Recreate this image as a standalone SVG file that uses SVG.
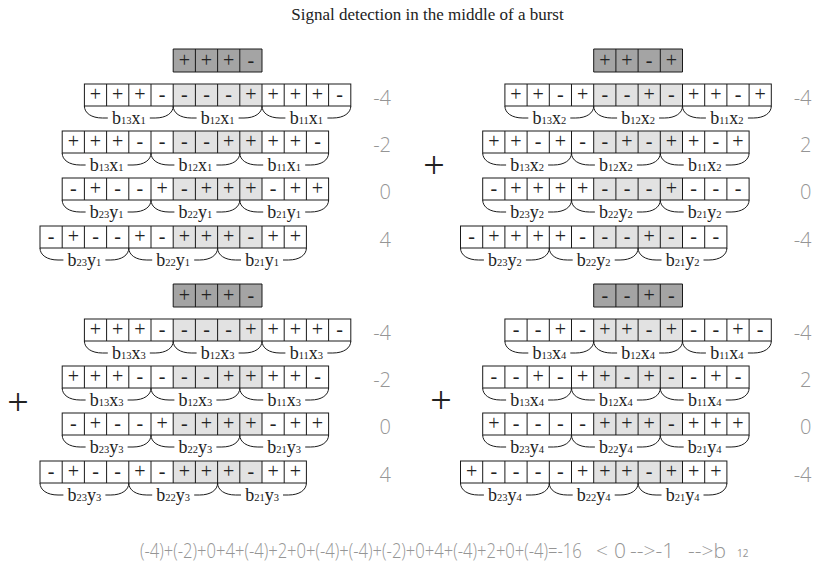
<svg xmlns="http://www.w3.org/2000/svg" xmlns:xlink="http://www.w3.org/1999/xlink" width="816" height="568" viewBox="0 0 816 568">
<style>
.ln{stroke:#1a1a1a;stroke-width:1;fill:none}
.sh{fill:#e2e2e2}
.key{fill:#a4a4a4}
.s{font-family:"Liberation Serif",serif;font-size:20px;fill:#222;text-anchor:middle}
.lb{font-family:"Liberation Serif",serif;font-size:18px;fill:#222;text-anchor:middle}
.sub{font-size:10.5px}
.v{font-family:"Open Sans","Liberation Sans",sans-serif;font-size:20px;font-weight:300;fill:#959595;text-anchor:end}
.title{font-family:"Liberation Serif",serif;font-size:17px;fill:#222;text-anchor:middle}
.eq{font-family:"Open Sans","Liberation Sans",sans-serif;font-size:21px;font-weight:300;fill:#959595}
.eqs{font-family:"Open Sans","Liberation Sans",sans-serif;font-size:10px;fill:#959595}
.big{font-family:"Liberation Serif",serif;font-size:38px;fill:#222;text-anchor:middle}
</style>
<defs>
<g id="row12" class="ln">
<rect x="0" y="0" width="266.4" height="22"/>
<path d="M22.2 0V22M44.4 0V22M66.6 0V22M88.8 0V22M111 0V22M133.2 0V22M155.4 0V22M177.6 0V22M199.8 0V22M222 0V22M244.2 0V22"/>
</g>
<g id="key4">
<rect class="key" x="0" y="0" width="88.8" height="23"/>
<path class="ln" d="M0 0H88.8V23H0ZM22.2 0V23M44.4 0V23M66.6 0V23"/>
</g>
<path id="braces" class="ln" d="M0 0C0 7 7 12 18 12H23.4M65.4 12H70.8C81.8 12 88.8 7 88.8 0M88.8 0C88.8 7 95.8 12 106.8 12H112.2M154.2 12H159.6C170.6 12 177.6 7 177.6 0M177.6 0C177.6 7 184.6 12 195.6 12H201M243 12H248.4C259.4 12 266.4 7 266.4 0"/>
</defs>
<rect width="816" height="568" fill="#fff"/>
<text class="title" x="427.5" y="20">Signal detection in the middle of a burst</text>

<g id="q1">
<g id="q1-key" transform="translate(173.2,49)"><use xlink:href="#key4"/><text class="s" x="11.1 33.3 55.5 77.7" y="17.5">+++-</text></g>
<g id="q1-r1" transform="translate(84.4,84)"><rect class="sh" x="88.8" width="88.8" height="22"/><use xlink:href="#row12"/><text class="s" x="11.1 33.3 55.5 77.7 99.9 122.1 144.3 166.5 188.7 210.9 233.1 255.3" y="17">+++----++++-</text><text class="v" x="306.6" y="21">-4</text></g>
<g id="q1-r2" transform="translate(62.2,131)"><rect class="sh" x="111" width="88.8" height="22"/><use xlink:href="#row12"/><text class="s" x="11.1 33.3 55.5 77.7 99.9 122.1 144.3 166.5 188.7 210.9 233.1 255.3" y="17">+++----++++-</text><text class="v" x="328.8" y="21">-2</text></g>
<g id="q1-r3" transform="translate(62.2,178)"><rect class="sh" x="111" width="88.8" height="22"/><use xlink:href="#row12"/><text class="s" x="11.1 33.3 55.5 77.7 99.9 122.1 144.3 166.5 188.7 210.9 233.1 255.3" y="17">-+--+-+++-++</text><text class="v" x="328.8" y="21">0</text></g>
<g id="q1-r4" transform="translate(40,226)"><rect class="sh" x="133.2" width="88.8" height="22"/><use xlink:href="#row12"/><text class="s" x="11.1 33.3 55.5 77.7 99.9 122.1 144.3 166.5 188.7 210.9 233.1 255.3" y="17">-+--+-+++-++</text><text class="v" x="351" y="21">4</text></g>
<g id="q1-braces">
<use xlink:href="#braces" transform="translate(84.4,106)"/>
<use xlink:href="#braces" transform="translate(62.2,153)"/>
<use xlink:href="#braces" transform="translate(62.2,200)"/>
<use xlink:href="#braces" transform="translate(40,248)"/>
<text class="lb" x="128.8" y="124">b<tspan class="sub">13</tspan>x<tspan class="sub">1</tspan></text>
<text class="lb" x="217.6" y="124">b<tspan class="sub">12</tspan>x<tspan class="sub">1</tspan></text>
<text class="lb" x="306.4" y="124">b<tspan class="sub">11</tspan>x<tspan class="sub">1</tspan></text>
<text class="lb" x="106.6" y="171">b<tspan class="sub">13</tspan>x<tspan class="sub">1</tspan></text>
<text class="lb" x="195.4" y="171">b<tspan class="sub">12</tspan>x<tspan class="sub">1</tspan></text>
<text class="lb" x="284.2" y="171">b<tspan class="sub">11</tspan>x<tspan class="sub">1</tspan></text>
<text class="lb" x="106.6" y="218">b<tspan class="sub">23</tspan>y<tspan class="sub">1</tspan></text>
<text class="lb" x="195.4" y="218">b<tspan class="sub">22</tspan>y<tspan class="sub">1</tspan></text>
<text class="lb" x="284.2" y="218">b<tspan class="sub">21</tspan>y<tspan class="sub">1</tspan></text>
<text class="lb" x="84.4" y="266">b<tspan class="sub">23</tspan>y<tspan class="sub">1</tspan></text>
<text class="lb" x="173.2" y="266">b<tspan class="sub">22</tspan>y<tspan class="sub">1</tspan></text>
<text class="lb" x="262" y="266">b<tspan class="sub">21</tspan>y<tspan class="sub">1</tspan></text>
</g>
</g>

<g id="q2" transform="translate(420.5,0)">
<g id="q2-key" transform="translate(173.2,49)"><use xlink:href="#key4"/><text class="s" x="11.1 33.3 55.5 77.7" y="17.5">++-+</text></g>
<g id="q2-r1" transform="translate(84.4,84)"><rect class="sh" x="88.8" width="88.8" height="22"/><use xlink:href="#row12"/><text class="s" x="11.1 33.3 55.5 77.7 99.9 122.1 144.3 166.5 188.7 210.9 233.1 255.3" y="17">++-+--+-++-+</text><text class="v" x="306.6" y="21">-4</text></g>
<g id="q2-r2" transform="translate(62.2,131)"><rect class="sh" x="111" width="88.8" height="22"/><use xlink:href="#row12"/><text class="s" x="11.1 33.3 55.5 77.7 99.9 122.1 144.3 166.5 188.7 210.9 233.1 255.3" y="17">++-+--+-++-+</text><text class="v" x="328.8" y="21">2</text></g>
<g id="q2-r3" transform="translate(62.2,178)"><rect class="sh" x="111" width="88.8" height="22"/><use xlink:href="#row12"/><text class="s" x="11.1 33.3 55.5 77.7 99.9 122.1 144.3 166.5 188.7 210.9 233.1 255.3" y="17">-++++---+---</text><text class="v" x="328.8" y="21">0</text></g>
<g id="q2-r4" transform="translate(40,226)"><rect class="sh" x="133.2" width="88.8" height="22"/><use xlink:href="#row12"/><text class="s" x="11.1 33.3 55.5 77.7 99.9 122.1 144.3 166.5 188.7 210.9 233.1 255.3" y="17">-++++---+---</text><text class="v" x="351" y="21">-4</text></g>
<g id="q2-braces">
<use xlink:href="#braces" transform="translate(84.4,106)"/>
<use xlink:href="#braces" transform="translate(62.2,153)"/>
<use xlink:href="#braces" transform="translate(62.2,200)"/>
<use xlink:href="#braces" transform="translate(40,248)"/>
<text class="lb" x="128.8" y="124">b<tspan class="sub">13</tspan>x<tspan class="sub">2</tspan></text>
<text class="lb" x="217.6" y="124">b<tspan class="sub">12</tspan>x<tspan class="sub">2</tspan></text>
<text class="lb" x="306.4" y="124">b<tspan class="sub">11</tspan>x<tspan class="sub">2</tspan></text>
<text class="lb" x="106.6" y="171">b<tspan class="sub">13</tspan>x<tspan class="sub">2</tspan></text>
<text class="lb" x="195.4" y="171">b<tspan class="sub">12</tspan>x<tspan class="sub">2</tspan></text>
<text class="lb" x="284.2" y="171">b<tspan class="sub">11</tspan>x<tspan class="sub">2</tspan></text>
<text class="lb" x="106.6" y="218">b<tspan class="sub">23</tspan>y<tspan class="sub">2</tspan></text>
<text class="lb" x="195.4" y="218">b<tspan class="sub">22</tspan>y<tspan class="sub">2</tspan></text>
<text class="lb" x="284.2" y="218">b<tspan class="sub">21</tspan>y<tspan class="sub">2</tspan></text>
<text class="lb" x="84.4" y="266">b<tspan class="sub">23</tspan>y<tspan class="sub">2</tspan></text>
<text class="lb" x="173.2" y="266">b<tspan class="sub">22</tspan>y<tspan class="sub">2</tspan></text>
<text class="lb" x="262" y="266">b<tspan class="sub">21</tspan>y<tspan class="sub">2</tspan></text>
</g>
</g>

<g id="q3" transform="translate(0,235)">
<g id="q3-key" transform="translate(173.2,49)"><use xlink:href="#key4"/><text class="s" x="11.1 33.3 55.5 77.7" y="17.5">+++-</text></g>
<g id="q3-r1" transform="translate(84.4,84)"><rect class="sh" x="88.8" width="88.8" height="22"/><use xlink:href="#row12"/><text class="s" x="11.1 33.3 55.5 77.7 99.9 122.1 144.3 166.5 188.7 210.9 233.1 255.3" y="17">+++----++++-</text><text class="v" x="306.6" y="21">-4</text></g>
<g id="q3-r2" transform="translate(62.2,131)"><rect class="sh" x="111" width="88.8" height="22"/><use xlink:href="#row12"/><text class="s" x="11.1 33.3 55.5 77.7 99.9 122.1 144.3 166.5 188.7 210.9 233.1 255.3" y="17">+++----++++-</text><text class="v" x="328.8" y="21">-2</text></g>
<g id="q3-r3" transform="translate(62.2,178)"><rect class="sh" x="111" width="88.8" height="22"/><use xlink:href="#row12"/><text class="s" x="11.1 33.3 55.5 77.7 99.9 122.1 144.3 166.5 188.7 210.9 233.1 255.3" y="17">-+--+-+++-++</text><text class="v" x="328.8" y="21">0</text></g>
<g id="q3-r4" transform="translate(40,226)"><rect class="sh" x="133.2" width="88.8" height="22"/><use xlink:href="#row12"/><text class="s" x="11.1 33.3 55.5 77.7 99.9 122.1 144.3 166.5 188.7 210.9 233.1 255.3" y="17">-+--+-+++-++</text><text class="v" x="351" y="21">4</text></g>
<g id="q3-braces">
<use xlink:href="#braces" transform="translate(84.4,106)"/>
<use xlink:href="#braces" transform="translate(62.2,153)"/>
<use xlink:href="#braces" transform="translate(62.2,200)"/>
<use xlink:href="#braces" transform="translate(40,248)"/>
<text class="lb" x="128.8" y="124">b<tspan class="sub">13</tspan>x<tspan class="sub">3</tspan></text>
<text class="lb" x="217.6" y="124">b<tspan class="sub">12</tspan>x<tspan class="sub">3</tspan></text>
<text class="lb" x="306.4" y="124">b<tspan class="sub">11</tspan>x<tspan class="sub">3</tspan></text>
<text class="lb" x="106.6" y="171">b<tspan class="sub">13</tspan>x<tspan class="sub">3</tspan></text>
<text class="lb" x="195.4" y="171">b<tspan class="sub">12</tspan>x<tspan class="sub">3</tspan></text>
<text class="lb" x="284.2" y="171">b<tspan class="sub">11</tspan>x<tspan class="sub">3</tspan></text>
<text class="lb" x="106.6" y="218">b<tspan class="sub">23</tspan>y<tspan class="sub">3</tspan></text>
<text class="lb" x="195.4" y="218">b<tspan class="sub">22</tspan>y<tspan class="sub">3</tspan></text>
<text class="lb" x="284.2" y="218">b<tspan class="sub">21</tspan>y<tspan class="sub">3</tspan></text>
<text class="lb" x="84.4" y="266">b<tspan class="sub">23</tspan>y<tspan class="sub">3</tspan></text>
<text class="lb" x="173.2" y="266">b<tspan class="sub">22</tspan>y<tspan class="sub">3</tspan></text>
<text class="lb" x="262" y="266">b<tspan class="sub">21</tspan>y<tspan class="sub">3</tspan></text>
</g>
</g>

<g id="q4" transform="translate(420.5,235)">
<g id="q4-key" transform="translate(173.2,49)"><use xlink:href="#key4"/><text class="s" x="11.1 33.3 55.5 77.7" y="17.5">--+-</text></g>
<g id="q4-r1" transform="translate(84.4,84)"><rect class="sh" x="88.8" width="88.8" height="22"/><use xlink:href="#row12"/><text class="s" x="11.1 33.3 55.5 77.7 99.9 122.1 144.3 166.5 188.7 210.9 233.1 255.3" y="17">--+-++-+--+-</text><text class="v" x="306.6" y="21">-4</text></g>
<g id="q4-r2" transform="translate(62.2,131)"><rect class="sh" x="111" width="88.8" height="22"/><use xlink:href="#row12"/><text class="s" x="11.1 33.3 55.5 77.7 99.9 122.1 144.3 166.5 188.7 210.9 233.1 255.3" y="17">--+-++-+--+-</text><text class="v" x="328.8" y="21">2</text></g>
<g id="q4-r3" transform="translate(62.2,178)"><rect class="sh" x="111" width="88.8" height="22"/><use xlink:href="#row12"/><text class="s" x="11.1 33.3 55.5 77.7 99.9 122.1 144.3 166.5 188.7 210.9 233.1 255.3" y="17">+----+++-+++</text><text class="v" x="328.8" y="21">0</text></g>
<g id="q4-r4" transform="translate(40,226)"><rect class="sh" x="133.2" width="88.8" height="22"/><use xlink:href="#row12"/><text class="s" x="11.1 33.3 55.5 77.7 99.9 122.1 144.3 166.5 188.7 210.9 233.1 255.3" y="17">+----+++-+++</text><text class="v" x="351" y="21">-4</text></g>
<g id="q4-braces">
<use xlink:href="#braces" transform="translate(84.4,106)"/>
<use xlink:href="#braces" transform="translate(62.2,153)"/>
<use xlink:href="#braces" transform="translate(62.2,200)"/>
<use xlink:href="#braces" transform="translate(40,248)"/>
<text class="lb" x="128.8" y="124">b<tspan class="sub">13</tspan>x<tspan class="sub">4</tspan></text>
<text class="lb" x="217.6" y="124">b<tspan class="sub">12</tspan>x<tspan class="sub">4</tspan></text>
<text class="lb" x="306.4" y="124">b<tspan class="sub">11</tspan>x<tspan class="sub">4</tspan></text>
<text class="lb" x="106.6" y="171">b<tspan class="sub">13</tspan>x<tspan class="sub">4</tspan></text>
<text class="lb" x="195.4" y="171">b<tspan class="sub">12</tspan>x<tspan class="sub">4</tspan></text>
<text class="lb" x="284.2" y="171">b<tspan class="sub">11</tspan>x<tspan class="sub">4</tspan></text>
<text class="lb" x="106.6" y="218">b<tspan class="sub">23</tspan>y<tspan class="sub">4</tspan></text>
<text class="lb" x="195.4" y="218">b<tspan class="sub">22</tspan>y<tspan class="sub">4</tspan></text>
<text class="lb" x="284.2" y="218">b<tspan class="sub">21</tspan>y<tspan class="sub">4</tspan></text>
<text class="lb" x="84.4" y="266">b<tspan class="sub">23</tspan>y<tspan class="sub">4</tspan></text>
<text class="lb" x="173.2" y="266">b<tspan class="sub">22</tspan>y<tspan class="sub">4</tspan></text>
<text class="lb" x="262" y="266">b<tspan class="sub">21</tspan>y<tspan class="sub">4</tspan></text>
</g>
</g>

<g id="plus-signs">
<text class="big" x="434" y="178">+</text>
<text class="big" x="18" y="415">+</text>
<text class="big" x="441" y="413">+</text>
</g>

<g id="equation">
<text class="eq" transform="translate(140,558) scale(0.79,1)">(-4)+(-2)+0+4+(-4)+2+0+(-4)+(-4)+(-2)+0+4+(-4)+2+0+(-4)=-16</text>
<text class="eq" y="558"><tspan x="596">&lt;</tspan><tspan x="614">0</tspan><tspan x="630">--&gt;-1</tspan><tspan x="688">--&gt;b</tspan></text>
<text class="eqs" x="737" y="557">12</text>
</g>
</svg>
